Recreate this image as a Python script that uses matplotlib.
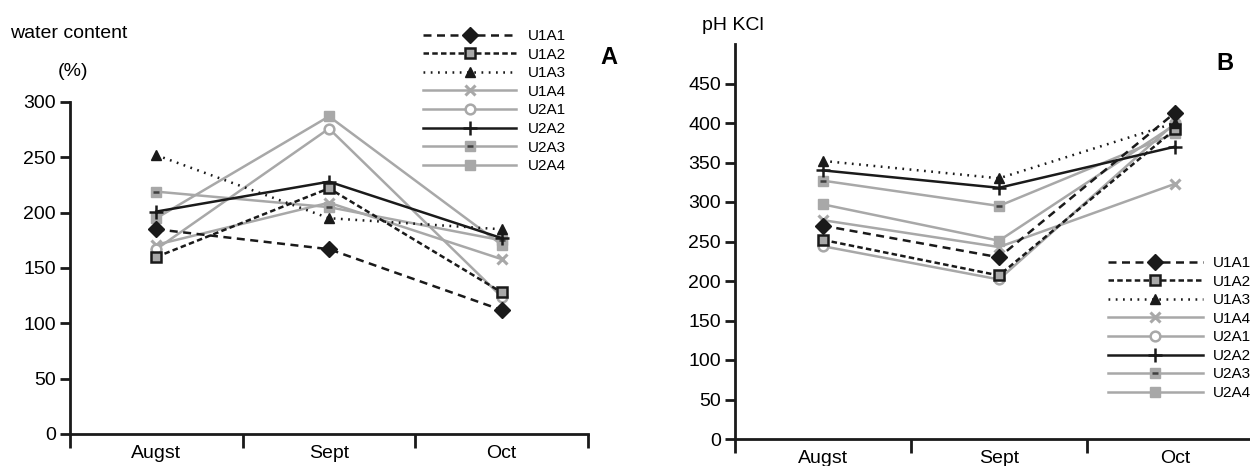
"""
Water content and pH KCl for the eight plots, August to October
"""

import matplotlib
matplotlib.use('Agg')
import matplotlib.pyplot as plt

plt.rcParams['font.family'] = ['Liberation Sans', 'DejaVu Sans']

months = ['Augst', 'Sept', 'Oct']
series = ['U1A1', 'U1A2', 'U1A3', 'U1A4', 'U2A1', 'U2A2', 'U2A3', 'U2A4']

# panel A: water content (%)
water_u1a1 = [185, 167, 112]
water_u1a2 = [160, 222, 128]
water_u1a3 = [252, 195, 185]
water_u1a4 = [171, 209, 158]
water_u2a1 = [167, 276, 124]
water_u2a2 = [201, 228, 177]
water_u2a3 = [219, 205, 175]
water_u2a4 = [195, 287, 171]

# panel B: pH KCl
ph_u1a1 = [270, 230, 413]
ph_u1a2 = [252, 207, 392]
ph_u1a3 = [352, 330, 400]
ph_u1a4 = [277, 243, 323]
ph_u2a1 = [244, 202, 400]
ph_u2a2 = [340, 318, 370]
ph_u2a3 = [327, 295, 387]
ph_u2a4 = [297, 251, 398]

water = [water_u1a1, water_u1a2, water_u1a3, water_u1a4,
         water_u2a1, water_u2a2, water_u2a3, water_u2a4]
ph = [ph_u1a1, ph_u1a2, ph_u1a3, ph_u1a4,
      ph_u2a1, ph_u2a2, ph_u2a3, ph_u2a4]

GRAY = '#a8a8a8'
BLACK = '#1a1a1a'
LW = 1.8

styles = [
    dict(color=BLACK, ls=(0, (3.2, 2.2)), marker='D', ms=8, mfc=BLACK, mec=BLACK, z=5),
    dict(color=BLACK, ls=(0, (2.2, 1.3)), marker='s', ms=7, mfc=GRAY, mec=BLACK, mew=1.8, z=5),
    dict(color=BLACK, ls=(0, (0.7, 2.2)), marker='^', ms=6.5, mfc=BLACK, mec=BLACK, z=5),
    dict(color=GRAY, ls='-', marker='x', ms=7, mfc=GRAY, mec=GRAY, mew=2.2, z=3),
    dict(color=GRAY, ls='-', marker='o', ms=7, mfc='white', mec=GRAY, mew=1.8, z=3),
    dict(color=BLACK, ls='-', marker='+', ms=10, mfc=BLACK, mec=BLACK, mew=1.8, z=4),
    dict(color=GRAY, ls='-', marker='s', ms=7, mfc=GRAY, mec=GRAY, z=3),
    dict(color=GRAY, ls='-', marker='s', ms=7, mfc=GRAY, mec=GRAY, z=3),
]

fig = plt.figure(figsize=(12.5, 4.66), dpi=100)
W, H = 1250, 466


def draw_panel(ax, data, ymax, yticks):
    x = range(len(months))
    handles = []
    for name, vals, st in zip(series, data, styles):
        line, = ax.plot(x, vals, color=st['color'], linestyle=st['ls'], linewidth=LW,
                        marker=st['marker'], markersize=st['ms'],
                        markerfacecolor=st['mfc'], markeredgecolor=st['mec'],
                        markeredgewidth=st.get('mew', 1.0), zorder=st['z'],
                        clip_on=False)
        if name == 'U2A3':
            dash, = ax.plot(x, vals, linestyle='none', marker='_', markersize=4,
                            markeredgewidth=1.8, color='#404040', zorder=st['z'] + 0.1,
                            clip_on=False)
            handles.append((line, dash))
        else:
            handles.append(line)

    ax.set_xlim(-0.5, 2.5)
    ax.set_ylim(0, ymax)
    ax.set_yticks(yticks)
    ax.set_xticks([-0.5, 0.5, 1.5, 2.5])
    ax.set_xticklabels([])
    ax.set_xticks([0, 1, 2], minor=True)
    ax.set_xticklabels(months, minor=True)
    ax.tick_params(axis='x', which='major', direction='out', length=10, width=2, color=BLACK)
    ax.tick_params(axis='x', which='minor', length=0, pad=8, labelsize=14)
    ax.tick_params(axis='y', direction='out', length=7, width=2, color=BLACK,
                   labelsize=14, pad=3)
    for side in ['top', 'right']:
        ax.spines[side].set_visible(False)
    for side in ['left', 'bottom']:
        ax.spines[side].set_linewidth(2)
        ax.spines[side].set_color(BLACK)
    return handles


# Panel A
axA = fig.add_axes([70 / W, 1 - 434 / H, (588 - 70) / W, (434 - 102) / H])
hA = draw_panel(axA, water, 300, [0, 50, 100, 150, 200, 250, 300])
axA.legend(hA, series, loc='upper left', bbox_to_anchor=(423 / W, 1 - 29 / H),
           bbox_transform=fig.transFigure, frameon=False, fontsize=11,
           handlelength=6.1, handletextpad=0.75, labelspacing=0.3,
           borderpad=0, borderaxespad=0, numpoints=1)

# Panel B
axB = fig.add_axes([735 / W, 1 - 439 / H, 528 / W, (439 - 44) / H])
hB = draw_panel(axB, ph, 500, [0, 50, 100, 150, 200, 250, 300, 350, 400, 450])
axB.legend(hB, series, loc='upper left', bbox_to_anchor=(1108 / W, 1 - 256 / H),
           bbox_transform=fig.transFigure, frameon=False, fontsize=11,
           handlelength=6.2, handletextpad=0.65, labelspacing=0.3,
           borderpad=0, borderaxespad=0, numpoints=1)

# titles and panel letters
fig.text(10 / W, 1 - 33 / H, 'water content', fontsize=14, va='center', ha='left')
fig.text(58 / W, 1 - 72 / H, '(%)', fontsize=14, va='center', ha='left')
fig.text(600 / W, 1 - 57 / H, 'A', fontsize=17, fontweight='bold', va='center', ha='left')
fig.text(702 / W, 1 - 25 / H, 'pH KCl', fontsize=14, va='center', ha='left')
fig.text(1216 / W, 1 - 63 / H, 'B', fontsize=17, fontweight='bold', va='center', ha='left')

plt.savefig('out.png', dpi=100)
